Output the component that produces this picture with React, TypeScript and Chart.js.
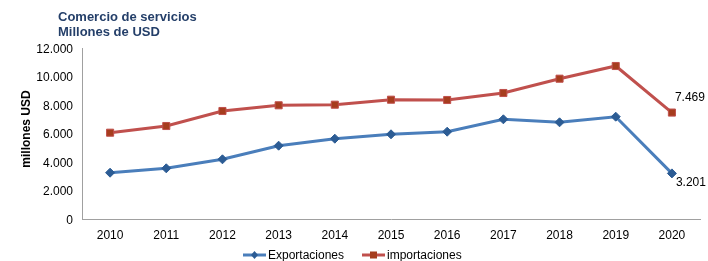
import React, { useEffect, useRef } from "react";
import { Chart, registerables } from "chart.js";

Chart.register(...registerables);

const years = ["2010", "2011", "2012", "2013", "2014", "2015", "2016", "2017", "2018", "2019", "2020"];
const exportaciones = [3249, 3556, 4189, 5144, 5635, 5944, 6126, 6996, 6786, 7179, 3201];
const importaciones = [6056, 6526, 7579, 7979, 8021, 8372, 8351, 8842, 9846, 10737, 7469];
const yTicks = [0, 2000, 4000, 6000, 8000, 10000, 12000];
const titleLines = ["Comercio de servicios", "Millones de USD"];
const yTitle = "millones USD";
const endLabels = ["3.201", "7.469"];

const BLUE_LINE = "#4A7EBB";
const BLUE_MARK = "#2C5C94";
const RED_LINE = "#C0504D";
const RED_MARK = "#A63D1E";
const FONT = "'Liberation Sans', Arial, sans-serif";

const fmt = (v: number) => {
  const s = Math.round(v).toString();
  return s.replace(/\B(?=(\d{3})+(?!\d))/g, ".");
};

const decorPlugin = {
  id: "decor",
  afterDraw(chart: any) {
    const ctx = chart.ctx;
    const xs = chart.scales.x;
    const ys = chart.scales.y;
    ctx.save();
    // Title
    ctx.fillStyle = "#243F69";
    ctx.font = `bold 13px ${FONT}`;
    ctx.textAlign = "left";
    ctx.textBaseline = "alphabetic";
    ctx.fillText(titleLines[0], 58, 21);
    ctx.fillText(titleLines[1], 58, 35.5);
    // Y title
    ctx.save();
    ctx.translate(30, 129);
    ctx.rotate(-Math.PI / 2);
    ctx.fillStyle = "#000";
    ctx.font = `bold 12px ${FONT}`;
    ctx.textAlign = "center";
    ctx.textBaseline = "alphabetic";
    ctx.fillText(yTitle, 0, 0);
    ctx.restore();
    // End labels
    ctx.fillStyle = "#000";
    ctx.font = `12px ${FONT}`;
    ctx.textAlign = "left";
    ctx.textBaseline = "middle";
    const last = years.length - 1;
    const xl = xs.getPixelForValue(last);
    ctx.fillText(endLabels[0], xl + 4, ys.getPixelForValue(exportaciones[last]) + 9);
    ctx.fillText(endLabels[1], xl + 3, ys.getPixelForValue(importaciones[last]) - 14.5);
    // Legend
    const ly = 255;
    const items = [
      { x: 243, label: chart.data.datasets[0].label, line: BLUE_LINE, mark: BLUE_MARK, shape: "d" },
      { x: 362, label: chart.data.datasets[1].label, line: RED_LINE, mark: RED_MARK, shape: "s" },
    ];
    for (const it of items) {
      ctx.strokeStyle = it.line;
      ctx.lineWidth = 3;
      ctx.beginPath();
      ctx.moveTo(it.x, ly);
      ctx.lineTo(it.x + 23, ly);
      ctx.stroke();
      ctx.fillStyle = it.mark;
      const cx = it.x + 11.5;
      if (it.shape === "d") {
        ctx.beginPath();
        ctx.moveTo(cx, ly - 4);
        ctx.lineTo(cx + 3.5, ly);
        ctx.lineTo(cx, ly + 4);
        ctx.lineTo(cx - 3.5, ly);
        ctx.closePath();
        ctx.fill();
      } else {
        ctx.fillRect(cx - 3.5, ly - 3.5, 7, 7);
      }
      ctx.fillStyle = "#000";
      ctx.font = `12px ${FONT}`;
      ctx.textAlign = "left";
      ctx.textBaseline = "middle";
      ctx.fillText(it.label, it.x + 25, ly + 0.5);
    }
    ctx.restore();
  },
};

export default function App() {
  const ref = useRef<HTMLCanvasElement>(null);
  useEffect(() => {
    if (!ref.current) return;
    const chart = new Chart(ref.current, {
      type: "line",
      data: {
        labels: years,
        datasets: [
          {
            label: "Exportaciones",
            data: exportaciones,
            borderColor: BLUE_LINE,
            backgroundColor: BLUE_MARK,
            borderWidth: 3,
            pointStyle: "rectRot",
            pointRadius: 4.5,
            pointBorderWidth: 1,
            pointBorderColor: BLUE_MARK,
            pointBackgroundColor: BLUE_MARK,
            tension: 0,
          },
          {
            label: "importaciones",
            data: importaciones,
            borderColor: RED_LINE,
            backgroundColor: RED_MARK,
            borderWidth: 3,
            pointStyle: "rect",
            pointRadius: 5,
            pointBorderWidth: 1,
            pointBorderColor: RED_LINE,
            pointBackgroundColor: RED_MARK,
            tension: 0,
          },
        ],
      },
      options: {
        animation: false,
        responsive: false,
        maintainAspectRatio: false,
        layout: { padding: { top: 48, right: 8, left: 0, bottom: 0 } },
        plugins: {
          legend: { display: false },
          title: { display: false },
          tooltip: { enabled: false },
        },
        scales: {
          x: {
            offset: true,
            grid: { display: false, drawTicks: false },
            border: { display: true, color: "#A0A0A0", width: 1 },
            ticks: { color: "#000", font: { family: FONT, size: 12 }, padding: 9, maxRotation: 0, autoSkip: false },
            afterFit: (s: any) => { s.height = 42; },
          },
          y: {
            min: 0,
            max: 12000,
            grid: { display: false, drawTicks: false },
            border: { display: true, color: "#A0A0A0", width: 1 },
            afterBuildTicks: (s: any) => { s.ticks = yTicks.map((v) => ({ value: v })); },
            ticks: {
              color: "#000",
              font: { family: FONT, size: 12 },
              padding: 9,
              labelOffset: 1.5,
              callback: (v: any) => fmt(Number(v)),
            },
            afterFit: (s: any) => { s.width = 82; },
          },
        },
      },
      plugins: [decorPlugin],
    });
    return () => chart.destroy();
  }, []);
  return (
    <div style={{ position: "fixed", left: 0, top: 0, width: 708, height: 261, background: "#fff" }}>
      <canvas ref={ref} width={708} height={261} style={{ width: 708, height: 261, display: "block" }} />
    </div>
  );
}
